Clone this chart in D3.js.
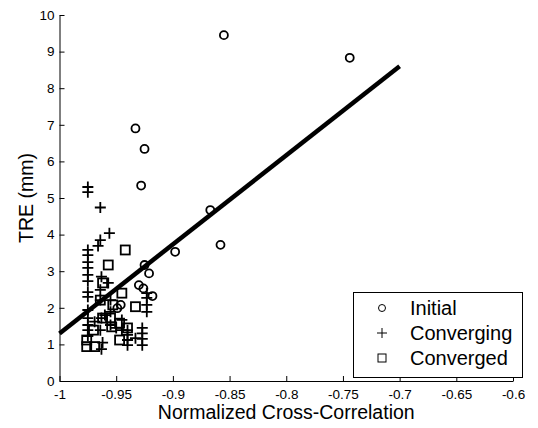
<!DOCTYPE html>
<html>
<head>
<meta charset="utf-8">
<script src="https://cdn.jsdelivr.net/npm/d3@7"></script>
<style>
  body { margin: 0; background: #fff; }
  svg { display: block; font-family: "Liberation Sans", Arial, sans-serif; }
</style>
</head>
<body>
<svg id="chart"></svg>
<script>
// data
var initial = [
  [-0.855, 9.45], [-0.744, 8.83], [-0.933, 6.90], [-0.925, 6.34], [-0.928, 5.34],
  [-0.867, 4.67], [-0.858, 3.72], [-0.898, 3.53], [-0.925, 3.17], [-0.921, 2.94],
  [-0.930, 2.62], [-0.926, 2.53], [-0.918, 2.32], [-0.946, 2.08], [-0.949, 1.99]
];

var converging = [
  [-0.975, 5.30], [-0.975, 5.16], [-0.975, 3.58], [-0.975, 3.44], [-0.975, 3.25],
  [-0.975, 3.09], [-0.975, 2.90], [-0.975, 2.73], [-0.975, 2.43], [-0.975, 2.30],
  [-0.975, 1.94], [-0.975, 1.72], [-0.975, 1.53], [-0.975, 1.39], [-0.975, 1.23],
  [-0.964, 4.74], [-0.964, 3.85], [-0.966, 3.69], [-0.963, 2.85], [-0.964, 2.49],
  [-0.964, 2.21], [-0.963, 1.72], [-0.964, 1.39], [-0.963, 0.87], [-0.962, 1.05],
  [-0.956, 4.04], [-0.957, 2.68], [-0.955, 2.21], [-0.955, 1.89], [-0.955, 1.53],
  [-0.945, 1.67], [-0.945, 1.39], [-0.940, 1.39], [-0.940, 1.26], [-0.940, 1.12],
  [-0.940, 0.98], [-0.933, 1.17], [-0.927, 1.45], [-0.927, 1.30], [-0.927, 1.15],
  [-0.927, 0.98], [-0.923, 2.40], [-0.923, 2.27], [-0.923, 2.08], [-0.923, 1.89],
  [-0.969, 1.62], [-0.960, 1.80], [-0.950, 1.45]
];

var converged = [
  [-0.942, 3.58], [-0.957, 3.17], [-0.945, 2.40], [-0.962, 2.68], [-0.953, 2.08],
  [-0.933, 2.03], [-0.947, 1.58], [-0.954, 1.48], [-0.947, 1.12], [-0.976, 0.94],
  [-0.969, 0.94], [-0.970, 1.39], [-0.964, 2.21], [-0.962, 1.72], [-0.940, 1.45],
  [-0.976, 1.12], [-0.955, 1.72]
];

var fitLine = [[-1, 1.3], [-0.7, 8.6]];

var xTicks = [-1, -0.95, -0.9, -0.85, -0.8, -0.75, -0.7, -0.65, -0.6];
var xTickLabels = ["-1", "-0.95", "-0.9", "-0.85", "-0.8", "-0.75", "-0.7", "-0.65", "-0.6"];
var yTicks = [0, 1, 2, 3, 4, 5, 6, 7, 8, 9, 10];
var yTickLabels = ["0", "1", "2", "3", "4", "5", "6", "7", "8", "9", "10"];

var legendNames = ["Initial", "Converging", "Converged"];

// layout
var width = 538;
var height = 428;
var plotLeft = 59.5, plotRight = 513, plotTop = 15, plotBottom = 381;

var svg = d3.select("#chart")
  .attr("width", width)
  .attr("height", height);

var xScale = d3.scaleLinear().domain([-1, -0.6]).range([plotLeft, plotRight]);
var yScale = d3.scaleLinear().domain([0, 10]).range([plotBottom, plotTop]);

// axes, ticks pointing inwards
var xAxis = d3.axisBottom(xScale)
  .tickValues(xTicks)
  .tickFormat((d, i) => xTickLabels[i])
  .tickSizeInner(-5)
  .tickSizeOuter(0)
  .tickPadding(8);

var yAxis = d3.axisLeft(yScale)
  .tickValues(yTicks)
  .tickFormat((d, i) => yTickLabels[i])
  .tickSizeInner(-5)
  .tickSizeOuter(0)
  .tickPadding(5);

var gx = svg.append("g")
  .attr("transform", "translate(0," + plotBottom + ")")
  .call(xAxis);

var gy = svg.append("g")
  .attr("transform", "translate(" + plotLeft + ",0)")
  .call(yAxis);

[gx, gy].forEach(g => {
  g.attr("font-family", null);
  g.selectAll("text").attr("font-size", 13.5).attr("fill", "#000");
  g.selectAll("line").attr("stroke", "#000");
  g.select(".domain").attr("stroke", "#000");
});

// axis titles
svg.append("text")
  .attr("x", (plotLeft + plotRight) / 2)
  .attr("y", 419)
  .attr("text-anchor", "middle")
  .attr("font-size", 19.5)
  .text("Normalized Cross-Correlation");

svg.append("text")
  .attr("transform", "translate(33," + ((plotTop + plotBottom) / 2) + ") rotate(-90)")
  .attr("text-anchor", "middle")
  .attr("font-size", 19.5)
  .text("TRE (mm)");

// markers
var plot = svg.append("g")
  .attr("fill", "none")
  .attr("stroke", "#000")
  .attr("stroke-width", 1.8);

plot.selectAll("circle.initial")
  .data(initial)
  .enter()
    .append("circle")
    .attr("class", "initial")
    .attr("cx", d => xScale(d[0]))
    .attr("cy", d => yScale(d[1]))
    .attr("r", 4);

plot.selectAll("path.converging")
  .data(converging)
  .enter()
    .append("path")
    .attr("class", "converging")
    .attr("d", "M-5.5,0H5.5M0,-5.5V5.5")
    .attr("transform", d => "translate(" + xScale(d[0]) + "," + yScale(d[1]) + ")");

plot.selectAll("rect.converged")
  .data(converged)
  .enter()
    .append("rect")
    .attr("class", "converged")
    .attr("x", d => xScale(d[0]) - 4.5)
    .attr("y", d => yScale(d[1]) - 4.5)
    .attr("width", 9)
    .attr("height", 9);

// regression line
svg.append("path")
  .datum(fitLine)
  .attr("fill", "none")
  .attr("stroke", "#000")
  .attr("stroke-width", 4.5)
  .attr("d", d3.line().x(d => xScale(d[0])).y(d => yScale(d[1])));

// legend
var legend = svg.append("g");
legend.append("rect")
  .attr("x", 353.5).attr("y", 292.5)
  .attr("width", 169).attr("height", 85)
  .attr("fill", "#fff")
  .attr("stroke", "#000")
  .attr("stroke-width", 1);

var rowY = [308, 333, 358];
legend.selectAll("text")
  .data(legendNames)
  .enter()
    .append("text")
    .attr("x", 410)
    .attr("y", (d, i) => rowY[i])
    .attr("dy", "0.35em")
    .attr("font-size", 20)
    .text(d => d);

var lg = legend.append("g").attr("fill", "none").attr("stroke", "#000").attr("stroke-width", 1);
lg.append("circle").attr("cx", 382).attr("cy", rowY[0]).attr("r", 3.5);
lg.append("path").attr("d", "M377," + rowY[1] + "H387M382," + (rowY[1] - 5) + "V" + (rowY[1] + 5));
lg.append("rect").attr("x", 378).attr("y", rowY[2] - 4).attr("width", 8).attr("height", 8);
</script>
</body>
</html>
